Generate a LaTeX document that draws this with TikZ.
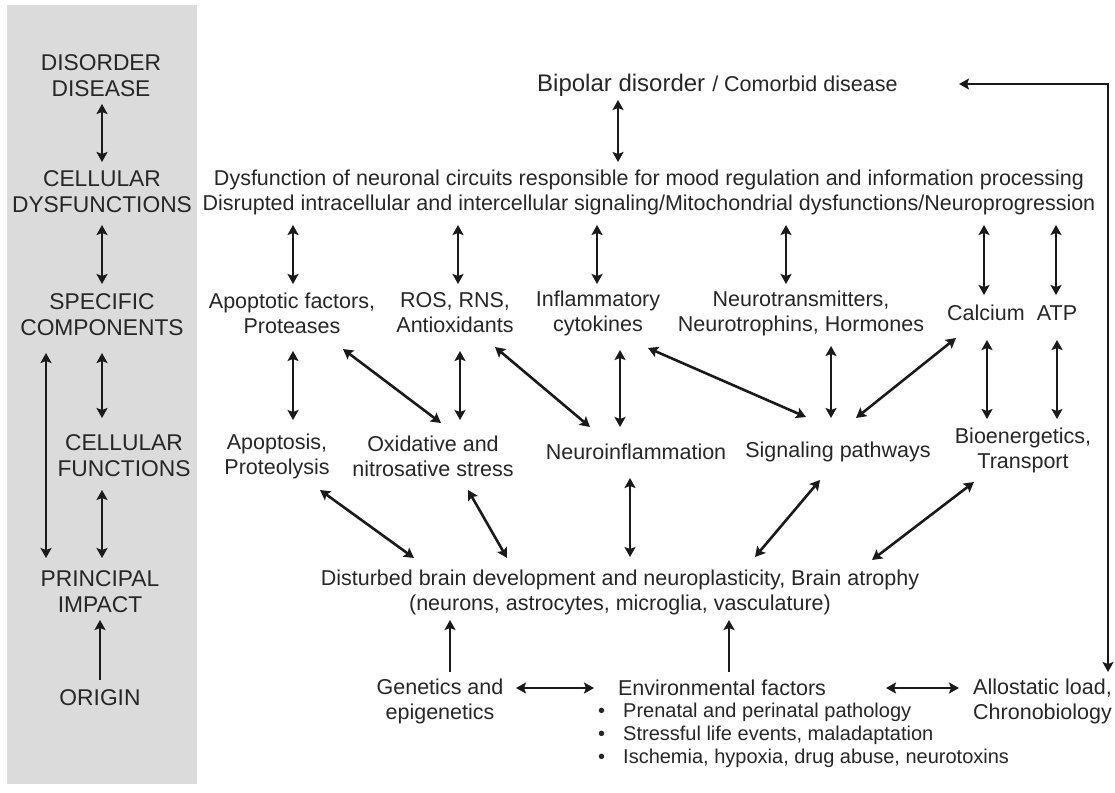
\documentclass[tikz,border=0pt]{standalone}
\usepackage{fontspec}
\setmainfont{Liberation Sans}
\usetikzlibrary{arrows.meta}
\definecolor{panel}{HTML}{DBDBDB}
\definecolor{ink}{HTML}{262626}
\definecolor{linec}{HTML}{1A1A1A}
\begin{document}
\begin{tikzpicture}[x=1pt,y=-1pt,
  lvl/.style={font=\fontsize{22.8}{26}\selectfont, text=ink, align=center, inner sep=0pt},
  txt/.style={font=\fontsize{21.5}{25}\selectfont, text=ink, align=center, inner sep=0pt},
  blt/.style={font=\fontsize{20}{23}\selectfont, text=ink, align=left, inner sep=0pt},
  dbl/.style={{Stealth[length=10pt,width=11pt,inset=2pt]}-{Stealth[length=10pt,width=11pt,inset=2pt]}, line width=2.6pt, draw=linec},
  one/.style={-{Stealth[length=10pt,width=11pt,inset=2pt]}, line width=2.6pt, draw=linec}
]
\useasboundingbox (0,0) rectangle (1115,792);
\fill[panel] (7,5) rectangle (197,784);

% left panel levels
\node[lvl] (dis)  at (101,76)  {DISORDER\\DISEASE};
\node[lvl] (cdys) at (102,192) {CELLULAR\\DYSFUNCTIONS};
\node[lvl] (spec) at (102,315) {SPECIFIC\\COMPONENTS};
\node[lvl] (cfun) at (124,456) {CELLULAR\\FUNCTIONS};
\node[lvl] (pimp) at (100,592) {PRINCIPAL\\IMPACT};
\node[lvl] (orig) at (100,698) {ORIGIN};

% main nodes
\node[anchor=west, inner sep=0pt, text=ink] (bip) at (537,85)
  {{\fontsize{24}{28}\selectfont Bipolar disorder}\hspace{7pt}{\fontsize{21.5}{26}\selectfont / Comorbid disease}};
\node[txt] (dys) at (649,192) {Dysfunction of neuronal circuits responsible for mood regulation and information processing\\Disrupted intracellular and intercellular signaling/Mitochondrial dysfunctions/Neuroprogression};

\node[txt] (apf)  at (292,313) {Apoptotic factors,\\Proteases};
\node[txt] (ros)  at (455,313) {ROS, RNS,\\Antioxidants};
\node[txt] (infl) at (598,313) {Inflammatory\\cytokines};
\node[txt] (neur) at (801,313) {Neurotransmitters,\\Neurotrophins, Hormones};
\node[txt] (calc) at (986,313) {Calcium};
\node[txt] (atp)  at (1057,313) {ATP};

\node[txt] (apo)  at (277,456) {Apoptosis,\\Proteolysis};
\node[txt] (oxi)  at (433,456) {Oxidative and\\nitrosative stress};
\node[txt] (ninf) at (636,452) {Neuroinflammation};
\node[txt] (sig)  at (838,452) {Signaling pathways};
\node[txt] (bio)  at (1023,450) {Bioenergetics,\\Transport};

\node[txt] (dist) at (620,592) {Disturbed brain development and neuroplasticity, Brain atrophy\\(neurons, astrocytes, microglia, vasculature)};

\node[txt] (gen)  at (440,701) {Genetics and\\epigenetics};
\node[txt] (env)  at (722,688) {Environmental factors};
\node[blt, anchor=west] (envl) at (598,735) {\makebox[25pt][l]{\textbullet}Prenatal and perinatal pathology\\\makebox[25pt][l]{\textbullet}Stressful life events, maladaptation\\\makebox[25pt][l]{\textbullet}Ischemia, hypoxia, drug abuse, neurotoxins};
\node[txt, align=left, anchor=west] (allo) at (973,701) {Allostatic load,\\Chronobiology};

% left panel arrows
\draw[dbl] ([shift={(1,28)}]dis.center) -- ([shift={(0,-30)}]cdys.center);
\draw[dbl] ([shift={(0,33)}]cdys.center) -- ([shift={(0,-31)}]spec.center);
\draw[dbl] ([shift={(0,38)}]spec.center) -- ([shift={(-22,-38)}]cfun.center);
\draw[dbl] ([shift={(-56,38)}]spec.center) -- ([shift={(-54,-34)}]pimp.center);
\draw[dbl] ([shift={(-22,34)}]cfun.center) -- ([shift={(2,-34)}]pimp.center);
\draw[one] ([shift={(0,-18)}]orig.center) -- ([shift={(0,28)}]pimp.center);

% disease <-> dysfunctions
\draw[dbl] ([shift={(81,15)}]bip.west) -- ([shift={(-31,-30)}]dys.center);
% dysfunctions <-> components
\draw[dbl] ([shift={(-356,33)}]dys.center) -- ([shift={(1,-29)}]apf.center);
\draw[dbl] ([shift={(-191,33)}]dys.center) -- ([shift={(3,-29)}]ros.center);
\draw[dbl] ([shift={(-52,33)}]dys.center) -- ([shift={(-1,-29)}]infl.center);
\draw[dbl] ([shift={(137,33)}]dys.center) -- ([shift={(-15,-29)}]neur.center);
\draw[dbl] ([shift={(335,33)}]dys.center) -- ([shift={(-2,-18)}]calc.center);
\draw[dbl] ([shift={(407,33)}]dys.center) -- ([shift={(-1,-18)}]atp.center);

% components <-> functions
\draw[dbl] ([shift={(1,38)}]apf.center) -- ([shift={(16,-36)}]apo.center);
\draw[dbl] ([shift={(51,36)}]apf.center) -- ([shift={(8,-33)}]oxi.center);
\draw[dbl] ([shift={(5,38)}]ros.center) -- ([shift={(27,-36)}]oxi.center);
\draw[dbl] ([shift={(40,34)}]ros.center) -- ([shift={(-46,-25)}]ninf.center);
\draw[dbl] ([shift={(22,37)}]infl.center) -- ([shift={(-16,-25)}]ninf.center);
\draw[dbl] ([shift={(50,35)}]infl.center) -- ([shift={(-32,-35)}]sig.center);
\draw[dbl] ([shift={(30,33)}]neur.center) -- ([shift={(-7,-34)}]sig.center);
\draw[dbl] ([shift={(-30,25)}]calc.center) -- ([shift={(18,-34)}]sig.center);
\draw[dbl] ([shift={(1,27)}]calc.center) -- ([shift={(-36,-31)}]bio.center);
\draw[dbl] ([shift={(0,27)}]atp.center) -- ([shift={(34,-31)}]bio.center);

% functions <-> principal impact
\draw[dbl] ([shift={(43,34)}]apo.center) -- ([shift={(-206,-34)}]dist.center);
\draw[dbl] ([shift={(35,34)}]oxi.center) -- ([shift={(-113,-34)}]dist.center);
\draw[dbl] ([shift={(-6,26)}]ninf.center) -- ([shift={(10,-35)}]dist.center);
\draw[dbl] ([shift={(-18,28)}]sig.center) -- ([shift={(135,-35)}]dist.center);
\draw[dbl] ([shift={(-49,32)}]bio.center) -- ([shift={(252,-32)}]dist.center);

% origin
\draw[one] ([shift={(10,-29)}]gen.center) -- ([shift={(-170,28)}]dist.center);
\draw[one] ([shift={(7,-16)}]env.center) -- ([shift={(109,28)}]dist.center);
\draw[dbl] ([shift={(76,-13)}]gen.center) -- ([shift={(-128,0)}]env.center);
\draw[dbl] ([shift={(164,0)}]env.center) -- ([shift={(-14,-13)}]allo.west);

% feedback loop
\draw[dbl] ([shift={(135,-29)}]allo.west) |- ([shift={(422,-1)}]bip.west);
\end{tikzpicture}
\end{document}
